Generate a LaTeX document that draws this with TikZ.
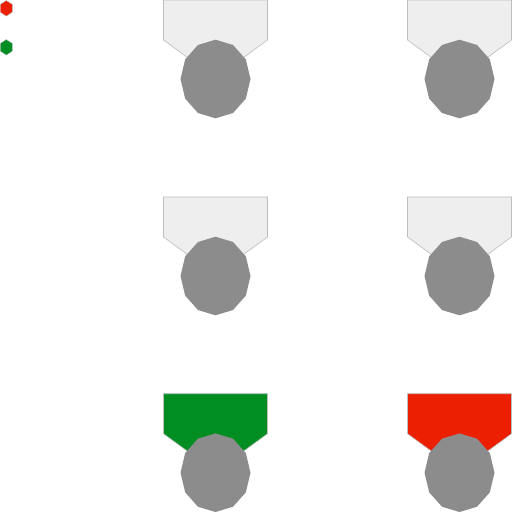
\documentclass[tikz,border=0pt]{standalone}
\definecolor{shieldgrey}{HTML}{EEEEEE}
\definecolor{rimgrey}{HTML}{BDBDBD}
\definecolor{ballgrey}{HTML}{8C8C8C}
\definecolor{medalgreen}{HTML}{008E23}
\definecolor{medalred}{HTML}{EC2000}
\tikzset{
  rim/.style={draw=rimgrey,line width=0.6pt,line join=miter},
  shield/.pic={
    \path[rim,pic actions] (-52,0) -- (52,0) -- (52,40) -- (28,57.5) -- (0,60) -- (-28,57.5) -- (-52,40) -- cycle;
    \fill[ballgrey] (35,79)
      \foreach \a in {30,60,...,330} { -- ({35*cos(\a)},{79+39.3*sin(\a)}) } -- cycle;
  },
  hexa/.pic={
    \path[draw=rimgrey,line width=0.4pt,pic actions] (0,-7.8) -- (6,-3.9) -- (6,3.9) -- (0,7.8) -- (-6,3.9) -- (-6,-3.9) -- cycle;
  }
}
\begin{document}
\begin{tikzpicture}[x=1pt,y=-1pt]
\useasboundingbox (0,0) rectangle (512,512);
\fill[white] (0,0) rectangle (512,512);
\pic[fill=shieldgrey] at (215.5,0) {shield};
\pic[fill=shieldgrey] at (459.5,0) {shield};
\pic[fill=shieldgrey] at (215.5,197) {shield};
\pic[fill=shieldgrey] at (459.5,197) {shield};
\pic[fill=medalgreen,draw=medalgreen] at (215.5,393.7) {shield};
\pic[fill=medalred,draw=medalred] at (459.5,393.7) {shield};
\pic[fill=medalred] at (6.3,8.3) {hexa};
\pic[fill=medalgreen] at (6.3,47.3) {hexa};
\end{tikzpicture}
\end{document}
